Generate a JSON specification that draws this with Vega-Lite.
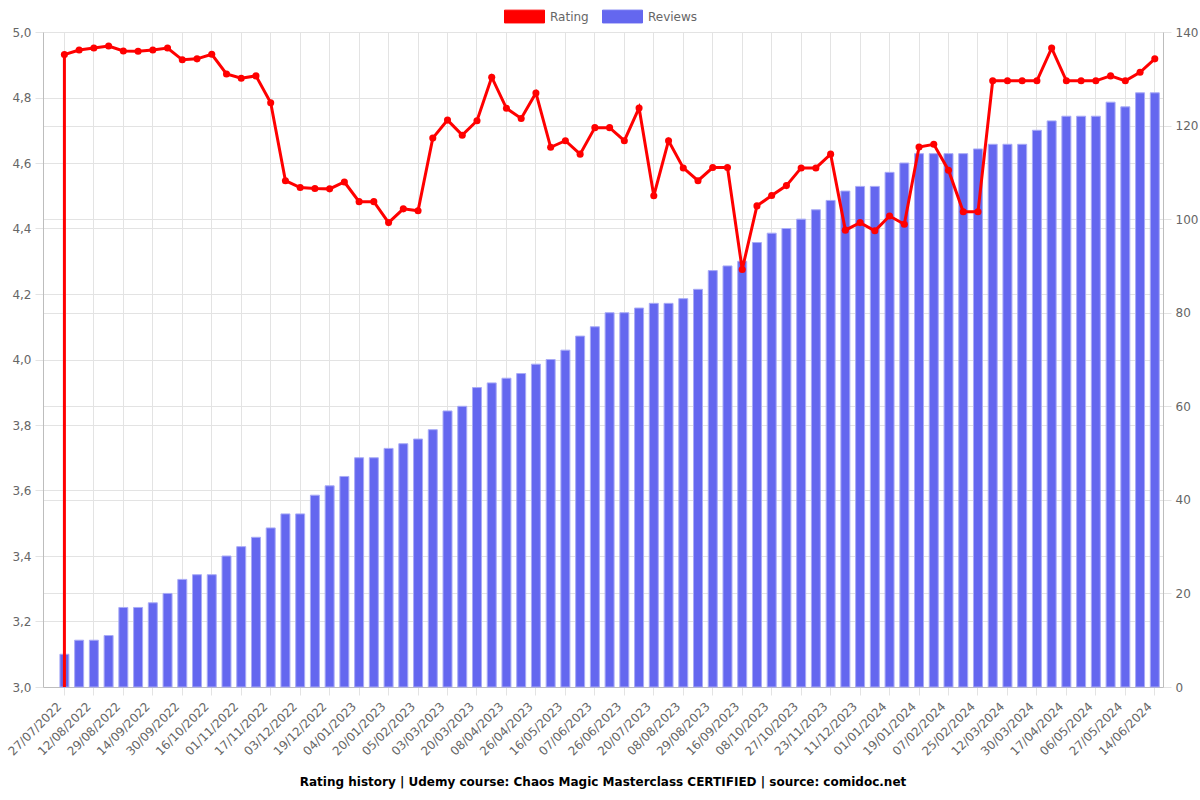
{
  "$schema": "https://vega.github.io/schema/vega-lite/v6.json",
  "autosize": {"type": "none"},
  "width": 1120,
  "height": 655,
  "padding": {"left": 43, "top": 32, "right": 37, "bottom": 113},
  "background": "white",
  "title": {
    "text": "Rating history | Udemy course: Chaos Magic Masterclass CERTIFIED | source: comidoc.net",
    "orient": "bottom",
    "anchor": "middle",
    "frame": "group",
    "font": "DejaVu Sans",
    "fontSize": 12,
    "fontWeight": "bold",
    "color": "#000000",
    "offset": 20
  },
  "config": {
    "view": {"stroke": null},
    "axis": {
      "labelFont": "DejaVu Sans",
      "labelFontSize": 12,
      "labelColor": "#666666",
      "gridColor": "#e3e3e3",
      "tickColor": "#e3e3e3",
      "domainColor": "#bdbdbd",
      "title": null
    }
  },
  "datasets": {
    "reviewsData": [
      {"date": "27/07/2022", "reviews": 7, "series": "Reviews"},
      {"date": "04/08/2022", "reviews": 10, "series": "Reviews"},
      {"date": "12/08/2022", "reviews": 10, "series": "Reviews"},
      {"date": "20/08/2022", "reviews": 11, "series": "Reviews"},
      {"date": "29/08/2022", "reviews": 17, "series": "Reviews"},
      {"date": "06/09/2022", "reviews": 17, "series": "Reviews"},
      {"date": "14/09/2022", "reviews": 18, "series": "Reviews"},
      {"date": "22/09/2022", "reviews": 20, "series": "Reviews"},
      {"date": "30/09/2022", "reviews": 23, "series": "Reviews"},
      {"date": "08/10/2022", "reviews": 24, "series": "Reviews"},
      {"date": "16/10/2022", "reviews": 24, "series": "Reviews"},
      {"date": "24/10/2022", "reviews": 28, "series": "Reviews"},
      {"date": "01/11/2022", "reviews": 30, "series": "Reviews"},
      {"date": "09/11/2022", "reviews": 32, "series": "Reviews"},
      {"date": "17/11/2022", "reviews": 34, "series": "Reviews"},
      {"date": "25/11/2022", "reviews": 37, "series": "Reviews"},
      {"date": "03/12/2022", "reviews": 37, "series": "Reviews"},
      {"date": "11/12/2022", "reviews": 41, "series": "Reviews"},
      {"date": "19/12/2022", "reviews": 43, "series": "Reviews"},
      {"date": "27/12/2022", "reviews": 45, "series": "Reviews"},
      {"date": "04/01/2023", "reviews": 49, "series": "Reviews"},
      {"date": "12/01/2023", "reviews": 49, "series": "Reviews"},
      {"date": "20/01/2023", "reviews": 51, "series": "Reviews"},
      {"date": "28/01/2023", "reviews": 52, "series": "Reviews"},
      {"date": "05/02/2023", "reviews": 53, "series": "Reviews"},
      {"date": "17/02/2023", "reviews": 55, "series": "Reviews"},
      {"date": "03/03/2023", "reviews": 59, "series": "Reviews"},
      {"date": "11/03/2023", "reviews": 60, "series": "Reviews"},
      {"date": "20/03/2023", "reviews": 64, "series": "Reviews"},
      {"date": "29/03/2023", "reviews": 65, "series": "Reviews"},
      {"date": "08/04/2023", "reviews": 66, "series": "Reviews"},
      {"date": "17/04/2023", "reviews": 67, "series": "Reviews"},
      {"date": "26/04/2023", "reviews": 69, "series": "Reviews"},
      {"date": "06/05/2023", "reviews": 70, "series": "Reviews"},
      {"date": "16/05/2023", "reviews": 72, "series": "Reviews"},
      {"date": "27/05/2023", "reviews": 75, "series": "Reviews"},
      {"date": "07/06/2023", "reviews": 77, "series": "Reviews"},
      {"date": "16/06/2023", "reviews": 80, "series": "Reviews"},
      {"date": "26/06/2023", "reviews": 80, "series": "Reviews"},
      {"date": "08/07/2023", "reviews": 81, "series": "Reviews"},
      {"date": "20/07/2023", "reviews": 82, "series": "Reviews"},
      {"date": "29/07/2023", "reviews": 82, "series": "Reviews"},
      {"date": "08/08/2023", "reviews": 83, "series": "Reviews"},
      {"date": "18/08/2023", "reviews": 85, "series": "Reviews"},
      {"date": "29/08/2023", "reviews": 89, "series": "Reviews"},
      {"date": "07/09/2023", "reviews": 90, "series": "Reviews"},
      {"date": "16/09/2023", "reviews": 91, "series": "Reviews"},
      {"date": "27/09/2023", "reviews": 95, "series": "Reviews"},
      {"date": "08/10/2023", "reviews": 97, "series": "Reviews"},
      {"date": "17/10/2023", "reviews": 98, "series": "Reviews"},
      {"date": "27/10/2023", "reviews": 100, "series": "Reviews"},
      {"date": "09/11/2023", "reviews": 102, "series": "Reviews"},
      {"date": "23/11/2023", "reviews": 104, "series": "Reviews"},
      {"date": "02/12/2023", "reviews": 106, "series": "Reviews"},
      {"date": "11/12/2023", "reviews": 107, "series": "Reviews"},
      {"date": "21/12/2023", "reviews": 107, "series": "Reviews"},
      {"date": "01/01/2024", "reviews": 110, "series": "Reviews"},
      {"date": "10/01/2024", "reviews": 112, "series": "Reviews"},
      {"date": "19/01/2024", "reviews": 114, "series": "Reviews"},
      {"date": "28/01/2024", "reviews": 114, "series": "Reviews"},
      {"date": "07/02/2024", "reviews": 114, "series": "Reviews"},
      {"date": "16/02/2024", "reviews": 114, "series": "Reviews"},
      {"date": "25/02/2024", "reviews": 115, "series": "Reviews"},
      {"date": "04/03/2024", "reviews": 116, "series": "Reviews"},
      {"date": "12/03/2024", "reviews": 116, "series": "Reviews"},
      {"date": "21/03/2024", "reviews": 116, "series": "Reviews"},
      {"date": "30/03/2024", "reviews": 119, "series": "Reviews"},
      {"date": "08/04/2024", "reviews": 121, "series": "Reviews"},
      {"date": "17/04/2024", "reviews": 122, "series": "Reviews"},
      {"date": "27/04/2024", "reviews": 122, "series": "Reviews"},
      {"date": "06/05/2024", "reviews": 122, "series": "Reviews"},
      {"date": "16/05/2024", "reviews": 125, "series": "Reviews"},
      {"date": "27/05/2024", "reviews": 124, "series": "Reviews"},
      {"date": "05/06/2024", "reviews": 127, "series": "Reviews"},
      {"date": "14/06/2024", "reviews": 127, "series": "Reviews"}
    ],
    "ratingData": [
      {"order": 0, "date": "27/07/2022", "rating": 0, "series": "Rating"},
      {"order": 1, "date": "27/07/2022", "rating": 4.931, "series": "Rating"},
      {"order": 2, "date": "04/08/2022", "rating": 4.945, "series": "Rating"},
      {"order": 3, "date": "12/08/2022", "rating": 4.951, "series": "Rating"},
      {"order": 4, "date": "20/08/2022", "rating": 4.957, "series": "Rating"},
      {"order": 5, "date": "29/08/2022", "rating": 4.942, "series": "Rating"},
      {"order": 6, "date": "06/09/2022", "rating": 4.941, "series": "Rating"},
      {"order": 7, "date": "14/09/2022", "rating": 4.945, "series": "Rating"},
      {"order": 8, "date": "22/09/2022", "rating": 4.951, "series": "Rating"},
      {"order": 9, "date": "30/09/2022", "rating": 4.915, "series": "Rating"},
      {"order": 10, "date": "08/10/2022", "rating": 4.918, "series": "Rating"},
      {"order": 11, "date": "16/10/2022", "rating": 4.932, "series": "Rating"},
      {"order": 12, "date": "24/10/2022", "rating": 4.872, "series": "Rating"},
      {"order": 13, "date": "01/11/2022", "rating": 4.859, "series": "Rating"},
      {"order": 14, "date": "09/11/2022", "rating": 4.866, "series": "Rating"},
      {"order": 15, "date": "17/11/2022", "rating": 4.784, "series": "Rating"},
      {"order": 16, "date": "25/11/2022", "rating": 4.546, "series": "Rating"},
      {"order": 17, "date": "03/12/2022", "rating": 4.525, "series": "Rating"},
      {"order": 18, "date": "11/12/2022", "rating": 4.522, "series": "Rating"},
      {"order": 19, "date": "19/12/2022", "rating": 4.521, "series": "Rating"},
      {"order": 20, "date": "27/12/2022", "rating": 4.542, "series": "Rating"},
      {"order": 21, "date": "04/01/2023", "rating": 4.482, "series": "Rating"},
      {"order": 22, "date": "12/01/2023", "rating": 4.482, "series": "Rating"},
      {"order": 23, "date": "20/01/2023", "rating": 4.418, "series": "Rating"},
      {"order": 24, "date": "28/01/2023", "rating": 4.46, "series": "Rating"},
      {"order": 25, "date": "05/02/2023", "rating": 4.454, "series": "Rating"},
      {"order": 26, "date": "17/02/2023", "rating": 4.676, "series": "Rating"},
      {"order": 27, "date": "03/03/2023", "rating": 4.731, "series": "Rating"},
      {"order": 28, "date": "11/03/2023", "rating": 4.685, "series": "Rating"},
      {"order": 29, "date": "20/03/2023", "rating": 4.729, "series": "Rating"},
      {"order": 30, "date": "29/03/2023", "rating": 4.862, "series": "Rating"},
      {"order": 31, "date": "08/04/2023", "rating": 4.767, "series": "Rating"},
      {"order": 32, "date": "17/04/2023", "rating": 4.736, "series": "Rating"},
      {"order": 33, "date": "26/04/2023", "rating": 4.814, "series": "Rating"},
      {"order": 34, "date": "06/05/2023", "rating": 4.648, "series": "Rating"},
      {"order": 35, "date": "16/05/2023", "rating": 4.668, "series": "Rating"},
      {"order": 36, "date": "27/05/2023", "rating": 4.627, "series": "Rating"},
      {"order": 37, "date": "07/06/2023", "rating": 4.708, "series": "Rating"},
      {"order": 38, "date": "16/06/2023", "rating": 4.708, "series": "Rating"},
      {"order": 39, "date": "26/06/2023", "rating": 4.668, "series": "Rating"},
      {"order": 40, "date": "08/07/2023", "rating": 4.768, "series": "Rating"},
      {"order": 41, "date": "20/07/2023", "rating": 4.5, "series": "Rating"},
      {"order": 42, "date": "29/07/2023", "rating": 4.668, "series": "Rating"},
      {"order": 43, "date": "08/08/2023", "rating": 4.585, "series": "Rating"},
      {"order": 44, "date": "18/08/2023", "rating": 4.546, "series": "Rating"},
      {"order": 45, "date": "29/08/2023", "rating": 4.586, "series": "Rating"},
      {"order": 46, "date": "07/09/2023", "rating": 4.586, "series": "Rating"},
      {"order": 47, "date": "16/09/2023", "rating": 4.275, "series": "Rating"},
      {"order": 48, "date": "27/09/2023", "rating": 4.469, "series": "Rating"},
      {"order": 49, "date": "08/10/2023", "rating": 4.501, "series": "Rating"},
      {"order": 50, "date": "17/10/2023", "rating": 4.531, "series": "Rating"},
      {"order": 51, "date": "27/10/2023", "rating": 4.585, "series": "Rating"},
      {"order": 52, "date": "09/11/2023", "rating": 4.585, "series": "Rating"},
      {"order": 53, "date": "23/11/2023", "rating": 4.627, "series": "Rating"},
      {"order": 54, "date": "02/12/2023", "rating": 4.395, "series": "Rating"},
      {"order": 55, "date": "11/12/2023", "rating": 4.418, "series": "Rating"},
      {"order": 56, "date": "21/12/2023", "rating": 4.393, "series": "Rating"},
      {"order": 57, "date": "01/01/2024", "rating": 4.438, "series": "Rating"},
      {"order": 58, "date": "10/01/2024", "rating": 4.413, "series": "Rating"},
      {"order": 59, "date": "19/01/2024", "rating": 4.649, "series": "Rating"},
      {"order": 60, "date": "28/01/2024", "rating": 4.657, "series": "Rating"},
      {"order": 61, "date": "07/02/2024", "rating": 4.578, "series": "Rating"},
      {"order": 62, "date": "16/02/2024", "rating": 4.451, "series": "Rating"},
      {"order": 63, "date": "25/02/2024", "rating": 4.451, "series": "Rating"},
      {"order": 64, "date": "04/03/2024", "rating": 4.851, "series": "Rating"},
      {"order": 65, "date": "12/03/2024", "rating": 4.851, "series": "Rating"},
      {"order": 66, "date": "21/03/2024", "rating": 4.851, "series": "Rating"},
      {"order": 67, "date": "30/03/2024", "rating": 4.851, "series": "Rating"},
      {"order": 68, "date": "08/04/2024", "rating": 4.951, "series": "Rating"},
      {"order": 69, "date": "17/04/2024", "rating": 4.851, "series": "Rating"},
      {"order": 70, "date": "27/04/2024", "rating": 4.851, "series": "Rating"},
      {"order": 71, "date": "06/05/2024", "rating": 4.851, "series": "Rating"},
      {"order": 72, "date": "16/05/2024", "rating": 4.866, "series": "Rating"},
      {"order": 73, "date": "27/05/2024", "rating": 4.851, "series": "Rating"},
      {"order": 74, "date": "05/06/2024", "rating": 4.877, "series": "Rating"},
      {"order": 75, "date": "14/06/2024", "rating": 4.918, "series": "Rating"}
    ]
  },
  "encoding": {
    "x": {
      "field": "date",
      "type": "ordinal",
      "sort": null,
      "scale": {"paddingInner": 0.39, "paddingOuter": 0.7, "align": 0.82},
      "axis": {
        "values": ["27/07/2022","12/08/2022","29/08/2022","14/09/2022","30/09/2022","16/10/2022","01/11/2022","17/11/2022","03/12/2022","19/12/2022","04/01/2023","20/01/2023","05/02/2023","03/03/2023","20/03/2023","08/04/2023","26/04/2023","16/05/2023","07/06/2023","26/06/2023","20/07/2023","08/08/2023","29/08/2023","16/09/2023","08/10/2023","27/10/2023","23/11/2023","11/12/2023","01/01/2024","19/01/2024","07/02/2024","25/02/2024","12/03/2024","30/03/2024","17/04/2024","06/05/2024","27/05/2024","14/06/2024"],
        "labelAngle": -45,
        "labelAlign": "right",
        "labelBaseline": "middle",
        "labelOffset": -5,
        "labelPadding": 9,
        "tickSize": 8,
        "grid": true,
        "labelOverlap": false
      }
    }
  },
  "layer": [
    {
      "data": {"name": "reviewsData"},
      "mark": {"type": "bar", "stroke": "#a9abf6", "strokeWidth": 1},
      "encoding": {
        "y": {
          "field": "reviews",
          "type": "quantitative",
          "scale": {"domain": [0, 140], "nice": false},
          "axis": {
            "orient": "right",
            "values": [0, 20, 40, 60, 80, 100, 120, 140],
            "grid": true,
            "tickSize": 8,
            "labelPadding": 4
          }
        },
        "color": {
          "field": "series",
          "type": "nominal",
          "scale": {"domain": ["Rating", "Reviews"], "range": ["#ff0000", "#6467ef"]},
          "legend": {
            "orient": "none",
            "legendX": 461,
            "legendY": -36,
            "direction": "horizontal",
            "title": null,
            "symbolType": "M-1,-0.32L1,-0.32L1,0.32L-1,0.32Z",
            "symbolSize": 1600,
            "symbolStrokeWidth": 1,
            "labelFont": "DejaVu Sans",
            "labelFontSize": 12,
            "labelColor": "#666666",
            "labelOffset": 5,
            "columnPadding": 11,
            "encode": {
              "symbols": {
                "update": {
                  "fill": {"scale": "color", "field": "value"},
                  "stroke": {"scale": "color", "field": "value"},
                  "fillOpacity": {"value": 1},
                  "opacity": {"value": 1}
                }
              }
            }
          }
        }
      }
    },
    {
      "data": {"name": "ratingData"},
      "mark": {
        "type": "line",
        "strokeWidth": 3,
        "clip": true,
        "point": {"filled": true, "size": 50}
      },
      "encoding": {
        "y": {
          "field": "rating",
          "type": "quantitative",
          "scale": {"domain": [3, 5], "nice": false},
          "axis": {
            "orient": "left",
            "values": [3, 3.2, 3.4, 3.6, 3.8, 4, 4.2, 4.4, 4.6, 4.8, 5],
            "labelExpr": "replace(format(datum.value, '.1f'), '.', ',')",
            "grid": true,
            "tickSize": 8,
            "labelPadding": 4
          }
        },
        "order": {"field": "order", "type": "quantitative"},
        "color": {"field": "series", "type": "nominal"}
      }
    }
  ],
  "resolve": {"scale": {"y": "independent"}}
}
